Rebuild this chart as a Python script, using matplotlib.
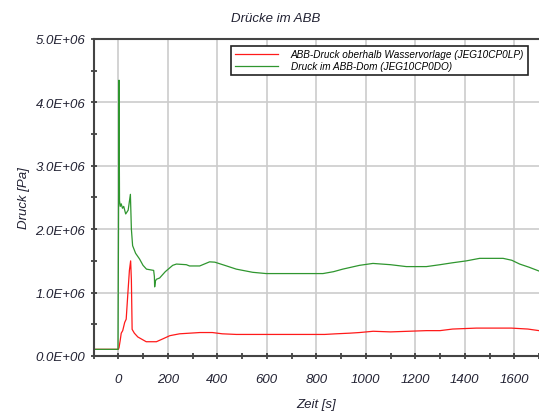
import numpy as np                      # arreglos
import matplotlib                       # backend sin pantalla
matplotlib.use('Agg')
import matplotlib.pyplot as plt         # graficar
from matplotlib.ticker import MultipleLocator, FuncFormatter

# datos
# Druck im ABB-Dom (JEG10CP0DO)
zeit_dom = [-100, -1, 1, 3, 5, 8, 12, 17, 22, 30, 40, 49, 53, 58, 70, 86, 100, 114,
            143, 146, 147, 150, 154, 167, 190, 220, 235, 275, 288, 329, 369, 390,
            430, 477, 543, 598, 700, 827, 870, 907, 975, 1029, 1100, 1164, 1245,
            1300, 1350, 1406, 1460, 1555, 1590, 1622, 1660, 1700]
druck_dom = [0.105e6, 0.105e6, 2.0e6, 4.35e6, 2.45e6, 2.36e6, 2.40e6, 2.33e6, 2.36e6,
             2.24e6, 2.30e6, 2.55e6, 2.00e6, 1.74e6, 1.62e6, 1.53e6, 1.43e6, 1.37e6,
             1.35e6, 1.25e6, 1.09e6, 1.18e6, 1.21e6, 1.23e6, 1.33e6, 1.43e6, 1.45e6,
             1.44e6, 1.42e6, 1.42e6, 1.485e6, 1.48e6, 1.43e6, 1.37e6, 1.32e6, 1.30e6,
             1.30e6, 1.30e6, 1.33e6, 1.37e6, 1.43e6, 1.46e6, 1.44e6, 1.41e6, 1.41e6,
             1.44e6, 1.47e6, 1.50e6, 1.54e6, 1.54e6, 1.51e6, 1.45e6, 1.40e6, 1.34e6]

# ABB-Druck oberhalb Wasservorlage (JEG10CP0LP)
zeit_wv = [-100, 0, 3, 8, 12, 18, 26, 32, 39, 45, 50, 53, 56, 65, 79, 113, 154, 180,
           208, 221, 248, 330, 380, 420, 477, 600, 834, 880, 935, 975, 1030, 1100,
           1245, 1300, 1351, 1447, 1588, 1655, 1700]
druck_wv = [0.105e6, 0.105e6, 0.13e6, 0.25e6, 0.36e6, 0.40e6, 0.53e6, 0.58e6, 1.0e6,
            1.35e6, 1.50e6, 1.20e6, 0.42e6, 0.36e6, 0.30e6, 0.225e6, 0.225e6, 0.27e6,
            0.32e6, 0.33e6, 0.35e6, 0.37e6, 0.37e6, 0.35e6, 0.34e6, 0.34e6, 0.34e6,
            0.35e6, 0.36e6, 0.37e6, 0.39e6, 0.38e6, 0.40e6, 0.40e6, 0.425e6, 0.44e6,
            0.44e6, 0.425e6, 0.40e6]

etiquetas = ['ABB-Druck oberhalb Wasservorlage (JEG10CP0LP)',
             'Druck im ABB-Dom (JEG10CP0DO)']

plt.rcParams['font.family'] = ['Liberation Sans', 'DejaVu Sans']
plt.rcParams['font.style'] = 'italic'

fig = plt.figure(figsize=(5.39, 4.14), dpi=100)
ax = fig.add_axes([0.1735, 0.1377, 0.8265, 0.7657])

ax.plot(zeit_wv, druck_wv, color='#ff1a1a', linewidth=0.9, label=etiquetas[0])
ax.plot(zeit_dom, druck_dom, color='#2f962f', linewidth=0.9, label=etiquetas[1])

ax.set_xlim(-100, 1700)
ax.set_ylim(0, 5.0e6)

ax.xaxis.set_major_locator(MultipleLocator(200))
ax.xaxis.set_minor_locator(MultipleLocator(100))
ax.yaxis.set_major_locator(MultipleLocator(1.0e6))
ax.yaxis.set_minor_locator(MultipleLocator(0.5e6))
ax.xaxis.set_major_formatter(FuncFormatter(lambda v, p: '' if v < 0 or v > 1600 else f'{v:.0f}'))
ax.yaxis.set_major_formatter(FuncFormatter(lambda v, p: f'{v / 1e6:.1f}E+06' if v > 0 else '0.0E+00'))

ax.grid(True, which='major', color='#cccccc', linewidth=1.2)
ax.set_axisbelow(True)
ax.tick_params(which='both', direction='inout', length=5, width=1.2, colors='#333333',
               labelsize=9.5, labelcolor='#222233')
ax.tick_params(axis='x', pad=10)

for lado in ['left', 'bottom', 'top']:
    ax.spines[lado].set_color('#444444')
    ax.spines[lado].set_linewidth(1.5)
ax.spines['right'].set_visible(False)

ax.set_xlabel('Zeit [s]', fontsize=9.5, labelpad=9, color='#222233')
ax.set_ylabel('Druck [Pa]', fontsize=9.5, labelpad=4, color='#222233')
fig.text(0.512, 0.955, 'Drücke im ABB', ha='center', va='center', fontsize=9.5, color='#222233')

leyenda = ax.legend(loc='upper right', bbox_to_anchor=(0.975, 0.978), fontsize=7.2,
                    fancybox=False, framealpha=1, edgecolor='#222222', handlelength=4.3,
                    handletextpad=1.3, borderpad=0.35, labelspacing=0.2, borderaxespad=0)
leyenda.get_frame().set_linewidth(1.2)

fig.savefig('out.png', dpi=100)
